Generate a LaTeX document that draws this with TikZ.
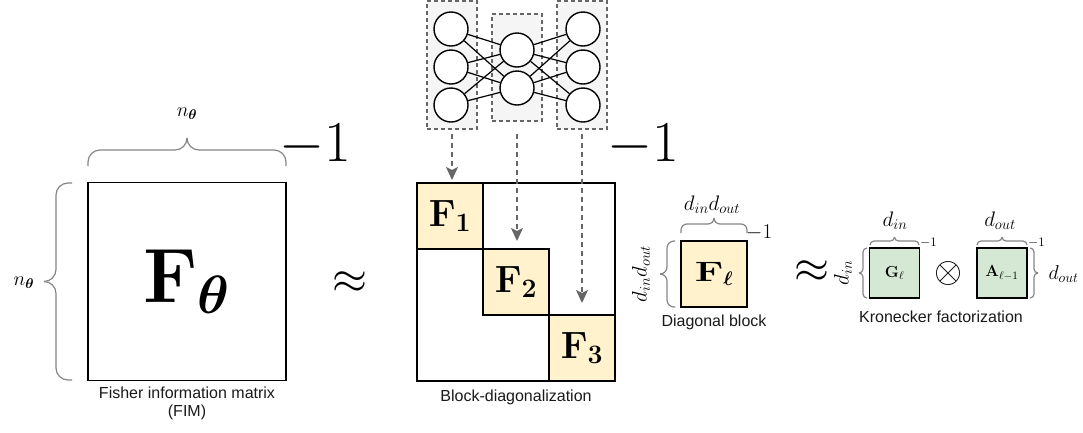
\RequirePackage{fix-cm}
\documentclass[tikz,border=0pt]{standalone}
\usepackage{amsmath,bm,graphicx}
\usepackage[no-math]{fontspec}
\newfontfamily\capfont{Liberation Sans}
\usetikzlibrary{arrows.meta}
\definecolor{yel}{HTML}{FFF2CC}
\definecolor{grn}{HTML}{D5E8D4}
\definecolor{dgray}{HTML}{666666}
\definecolor{lgray}{HTML}{F5F5F5}
\definecolor{bgray}{HTML}{858585}
\definecolor{captxt}{HTML}{1A1A1A}
\newcommand\fs[1]{\fontsize{#1}{#1}\selectfont}
\newcommand\HBrace[6]{% x1, x2, yend, ymid, ytip, r
  \draw[brc,rounded corners=#6pt] (#1,#3) |- ({(#1+#2)/2},#4) -- ({(#1+#2)/2},#5);
  \draw[brc,rounded corners=#6pt] (#2,#3) |- ({(#1+#2)/2},#4) -- ({(#1+#2)/2},#5);}
\newcommand\VBrace[6]{% y1, y2, xend, xmid, xtip, r
  \draw[brc,rounded corners=#6pt] (#3,#1) -| (#4,{(#1+#2)/2}) -- (#5,{(#1+#2)/2});
  \draw[brc,rounded corners=#6pt] (#3,#2) -| (#4,{(#1+#2)/2}) -- (#5,{(#1+#2)/2});}
\begin{document}
\begin{tikzpicture}[x=1pt,y=-1pt,
  bigmat/.style={draw=black,line width=1.8pt,inner sep=0pt,minimum size=198pt},
  blk/.style={draw=black,line width=1.6pt,inner sep=0pt},
  layerbox/.style={draw=dgray,fill=lgray,line width=1.1pt,dash pattern=on 4pt off 3pt,inner sep=0pt},
  neuron/.style={circle,draw=black,fill=white,line width=1.4pt,minimum size=34pt,inner sep=0pt},
  edge/.style={black,line width=1.2pt},
  flow/.style={draw=dgray,line width=1.4pt,dash pattern=on 5pt off 4pt,-{Stealth[length=13pt,width=12pt,inset=3pt]}},
  brc/.style={draw=bgray,line width=1.2pt},
  captext/.style={font=\capfont\fs{16},text=captxt,inner sep=0pt,align=center},
  inv/.style={anchor=base west,inner sep=0pt}]
\useasboundingbox (0,0) rectangle (1083,432);

% ---- neural network ----
\node[layerbox,minimum width=50pt,minimum height=128pt] (L1) at (452,65) {};
\node[layerbox,minimum width=50pt,minimum height=107pt] (L2) at (517,67.5) {};
\node[layerbox,minimum width=50pt,minimum height=128pt] (L3) at (582,65) {};
\node[neuron] (l1) at (451,29) {};
\node[neuron] (l2) at (451,67) {};
\node[neuron] (l3) at (451,105) {};
\node[neuron] (m1) at (517,50) {};
\node[neuron] (m2) at (517,88) {};
\node[neuron] (r1) at (583,29) {};
\node[neuron] (r2) at (583,67) {};
\node[neuron] (r3) at (583,105) {};
\foreach \a in {l1,l2,l3} \foreach \b in {m1,m2} \draw[edge] (\a) -- (\b);
\foreach \a in {r1,r2,r3} \foreach \b in {m1,m2} \draw[edge] (\b) -- (\a);

% ---- Fisher information matrix ----
\node[bigmat,font=\fs{77}] (fim) at (187,281.5) {$\mathbf{F}_{\boldsymbol{\theta}}$};
\HBrace{88}{286}{166}{150}{138}{12}
\VBrace{183}{380}{72}{56}{44}{12}
\node[font=\fs{20}] (nt) at (187,114) {$n_{\boldsymbol{\theta}}$};
\node[font=\fs{20}] (nl) at (24,283) {$n_{\boldsymbol{\theta}}$};
\node[inv,font=\fs{58}] (inv1) at (279,161) {$-1$};
\node[captext] (capfim) at (187,403) {Fisher information matrix\\[2pt](FIM)};
\node[font=\fs{45}] (ap1) at (350,283) {$\approx$};

% ---- block diagonal ----
\node[bigmat] (bd) at (516,282) {};
\node[blk,fill=yel,minimum size=66pt,font=\fs{38}] (b1) at (450,216) {$\mathbf{F}_{\mathbf{1}}$};
\node[blk,fill=yel,minimum size=66pt,font=\fs{38}] (b2) at (516,282) {$\mathbf{F}_{\mathbf{2}}$};
\node[blk,fill=yel,minimum size=66pt,font=\fs{38}] (b3) at (582,348) {$\mathbf{F}_{\mathbf{3}}$};
\node[inv,font=\fs{58}] (inv2) at (607,161) {$-1$};
\node[captext] (capbd) at (516,397) {Block-diagonalization};

\coordinate (t1) at (452,180);
\coordinate (t2) at (517,241);
\coordinate (t3) at (582,303);
\draw[flow,shorten <=4pt] (L1.south) -- (t1);
\draw[flow,shorten <=12pt] (L2.south) -- (t2);
\draw[flow,shorten <=4pt] (L3.south) -- (t3);

% ---- diagonal block ----
\node[blk,fill=yel,minimum size=66pt,font=\fs{28}] (Fl) at (714,274) {$\scalebox{1.45}[1]{$\mathbf{F}$}_{\boldsymbol{\ell}}$};
\HBrace{681}{747}{233}{224}{218}{6}
\VBrace{241}{307}{675}{667}{660}{7}
\node[font=\fs{21}] (dlt) at (712,205) {$d_{in}d_{out}$};
\node[font=\fs{21},rotate=90] (dll) at (641,274) {$d_{in}d_{out}$};
\node[inv,font=\fs{21}] (inv3) at (746,238) {$-1$};
\node[captext] (capdb) at (714,322) {Diagonal block};
\node[font=\fs{45}] (ap2) at (812,272) {$\approx$};

% ---- Kronecker factorization ----
\node[blk,fill=grn,minimum size=50pt,font=\fs{16}] (G) at (894.5,273) {$\mathbf{G}_{\ell}$};
\node[blk,fill=grn,minimum size=50pt,font=\fs{16}] (A) at (1002,273) {$\mathbf{A}_{\ell-1}$};
\node[font=\fs{36}] (ot) at (948,273) {$\otimes$};
\HBrace{870}{919}{245}{241}{237}{4}
\HBrace{977}{1027}{245}{241}{237}{4}
\VBrace{248}{298}{867}{863}{859}{4}
\VBrace{248}{298}{1030}{1034}{1038}{4}
\node[font=\fs{21}] (dgt) at (895,221) {$d_{in}$};
\node[font=\fs{21}] (dat) at (1000,221) {$d_{out}$};
\node[font=\fs{21},rotate=90] (dgl) at (843,273) {$d_{in}$};
\node[font=\fs{20},anchor=west] (dar) at (1045,274) {$d_{out}$};
\node[inv,font=\fs{13}] (inv4) at (920,246) {$-1$};
\node[inv,font=\fs{13}] (inv5) at (1028,246) {$-1$};
\node[captext] (capkf) at (941,317) {Kronecker factorization};
\end{tikzpicture}
\end{document}
